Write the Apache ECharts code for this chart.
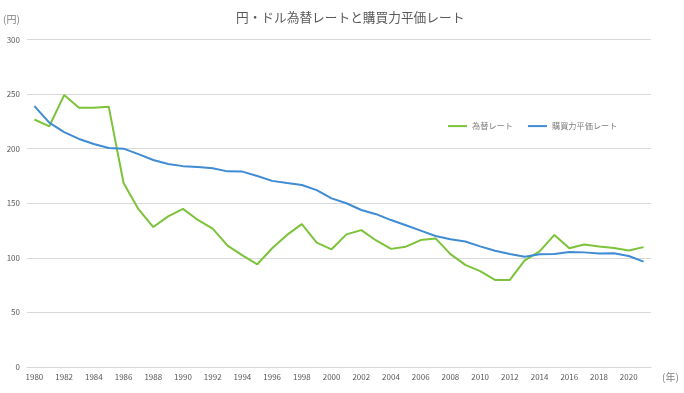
<!DOCTYPE html>
<html><head><meta charset="utf-8">
<script src="https://cdn.jsdelivr.net/npm/echarts@6/dist/echarts.min.js"></script>
<style>html,body{margin:0;padding:0;background:#fff}#c{width:684px;height:393px}</style>
</head><body><div id="c"></div>
<script>
const years = ['1980','1981','1982','1983','1984','1985','1986','1987','1988','1989','1990','1991','1992','1993','1994','1995','1996','1997','1998','1999','2000','2001','2002','2003','2004','2005','2006','2007','2008','2009','2010','2011','2012','2013','2014','2015','2016','2017','2018','2019','2020','2021'];
const exchangeRate = [226.7,220.5,249.1,237.5,237.5,238.5,168.5,144.6,128.2,138.0,144.8,134.7,126.7,111.2,102.2,94.1,108.8,121.0,130.9,113.9,107.8,121.5,125.4,115.9,108.2,110.2,116.3,117.8,103.4,93.6,87.8,79.8,79.8,97.6,105.9,121.0,108.8,112.2,110.4,109.0,106.8,109.8];
const pppRate = [239,223.8,215.2,208.9,204.3,200.6,200,195,189.6,186,184,183.2,182,179.2,179,175,170.5,168.5,166.7,162,154.5,150,143.8,140,134.6,129.8,124.9,120,117,115,110.5,106.5,103.5,101,103.2,103.5,105.3,105,103.9,104.2,101.7,96.5];
const seriesNames = ['為替レート','購買力平価レート'];
const yTicks = {min:0, max:300, interval:50};

const chart = echarts.init(document.getElementById('c'));
const font = '"Noto Sans CJK JP","Noto Sans",sans-serif';
chart.setOption({
  animation:false,
  textStyle:{fontFamily:font},
  title:{text:'円・ドル為替レートと購買力平価レート',left:231,top:6,
    textStyle:{fontSize:12.7,fontWeight:'normal',color:'#595959',fontFamily:font}},
  legend:{top:117,left:443,itemWidth:19,itemHeight:2,itemGap:15,icon:'rect',
    textStyle:{fontSize:8.2,color:'#7f7f7f',fontFamily:font},
    data:seriesNames},
  grid:{left:27,right:33,top:39.5,bottom:26},
  graphic:[
    {type:'text',left:3,top:14,style:{text:'(円)',fontSize:10,fill:'#7f7f7f',fontFamily:font}},
    {type:'text',left:662,top:372,style:{text:'(年)',fontSize:10,fill:'#7f7f7f',fontFamily:font}}
  ],
  xAxis:{type:'category',data:years,boundaryGap:true,
    axisLine:{show:true,lineStyle:{color:'#d9d9d9'}},axisTick:{show:false},
    axisLabel:{interval:1,fontSize:8,color:'#595959',margin:6}},
  yAxis:{type:'value',min:yTicks.min,max:yTicks.max,interval:yTicks.interval,
    axisLine:{show:false},axisTick:{show:false},
    splitLine:{lineStyle:{color:'#d9d9d9',width:1}},
    axisLabel:{fontSize:8,color:'#595959',margin:7}},
  series:[
    {name:seriesNames[0],type:'line',data:exchangeRate,symbol:'none',
      lineStyle:{color:'#7cc33a',width:2},itemStyle:{color:'#7cc33a'}},
    {name:seriesNames[1],type:'line',data:pppRate,symbol:'none',
      lineStyle:{color:'#3f8bd4',width:2},itemStyle:{color:'#3f8bd4'}}
  ]
});
</script></body></html>
